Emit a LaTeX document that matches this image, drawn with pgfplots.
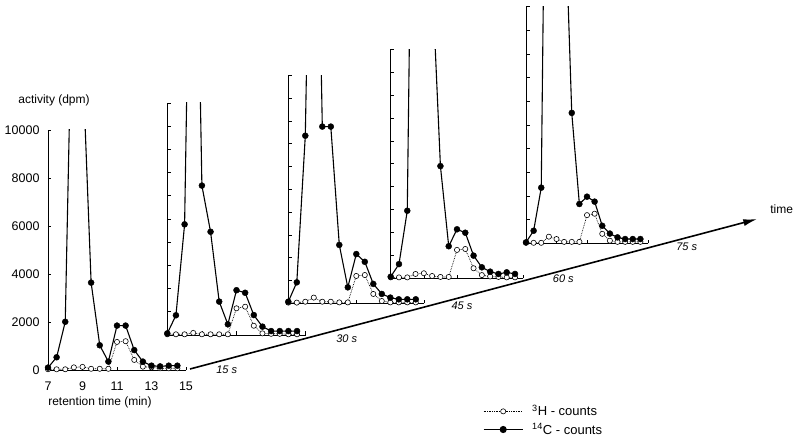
\documentclass[border=0pt]{standalone}
\usepackage{fontspec}
\setmainfont{Liberation Sans}
\usepackage{pgfplots}
\usepackage{pgfplotstable}
\pgfplotsset{compat=1.18}
\usetikzlibrary{arrows.meta}

% t = retention time (min), C = 14C counts, H = 3H counts (dpm)
\pgfplotstableread{
t C H
7 100 30
7.5 530 30
8 2010 30
8.5 19400 110
9 13000 130
9.5 3640 50
10 1030 50
10.5 350 50
11 1850 1170
11.5 1850 1200
12 830 420
12.5 350 140
13 180 110
13.5 150 70
14 180 70
14.5 180 70
}\pone
\pgfplotstableread{
t C H
7 70 30
7.5 850 30
8 4770 30
8.5 27500 90
9 6440 30
9.5 4450 30
10 1440 30
10.5 460 30
11 1930 1150
11.5 1820 1220
12 860 400
12.5 360 70
13 170 50
13.5 170 50
14 170 30
14.5 170 30
}\ptwo
\pgfplotstableread{
t C H
7 70 30
7.5 920 30
8 7350 70
8.5 28000 250
9 7750 70
9.5 7750 70
10 2560 40
10.5 700 40
11 2160 1200
11.5 1820 1240
12 850 410
12.5 410 100
13 250 40
13.5 175 40
14 175 40
14.5 175 40
}\pthree
\pgfplotstableread{
t C H
7 70 40
7.5 620 40
8 2950 40
8.5 32000 190
9 25000 220
9.5 13100 100
10 4900 60
10.5 1400 60
11 2140 1240
11.5 1990 1280
12 990 440
12.5 480 140
13 290 80
13.5 190 60
14 260 40
14.5 190 40
}\pfour
\pgfplotstableread{
t C H
7 40 20
7.5 530 20
8 2350 20
8.5 31800 280
9 25000 180
9.5 15300 60
10 5510 60
10.5 1660 60
11 1970 1190
11.5 1760 1250
12 740 400
12.5 410 110
13 250 60
13.5 180 60
14 180 60
14.5 180 60
}\pfive

\pgfplotsset{
  panel/.style={
    scale only axis, anchor=south west,
    xmin=7, xmax=15, ymin=0, ymax=10000,
    axis x line*=bottom, axis y line*=left,
    xtick={7,9,11,13,15}, ytick={0,1000,...,10000},
    tick align=inside, major tick length=3.5pt,
    tick style={black, line width=0.6pt},
    axis line style={black, line width=0.8pt},
    font=\fontsize{12}{14}\selectfont,
    tick label style={font=\fontsize{12.5}{14}\selectfont},
    xticklabel style={yshift=-8pt},
    yticklabel style={xshift=-5pt},
    /pgf/number format/assume math mode=true,
    /pgf/number format/1000 sep={},
    scaled y ticks=false,
  },
  nolabels/.style={xticklabels={}, yticklabels={}},
  hl/.style={black, densely dotted, line width=0.7pt, no marks},
  hm/.style={only marks, mark=*, mark size=2.6pt, mark options={solid, fill=white, draw=black, line width=0.6pt}},
  cl/.style={black, solid, line width=1.1pt, no marks},
  cm/.style={only marks, mark=*, mark size=3pt, mark options={fill=black, draw=black},
    restrict y to domain=-1000:10000},
}

% one chromatogram: dotted 3H below, solid 14C on top
\newcommand{\chrom}[1]{%
  \addplot[hl, forget plot] table[x=t, y=H] {#1};
  \addplot[hm, forget plot] table[x=t, y=H] {#1};
  \addplot[cl, forget plot] table[x=t, y=C] {#1};
  \addplot[cm, forget plot] table[x=t, y=C] {#1};
}

\begin{document}
\begin{tikzpicture}
\path[use as bounding box] (0pt,0pt) rectangle (800pt,442pt);

% 0 s
\begin{axis}[panel, at={(48pt,72pt)}, width=138pt, height=240pt,
  ytick={0,2000,...,10000},
  legend style={at={(3.152,-0.21)}, anchor=west, draw=none, fill=none,
    inner sep=0pt, row sep=6pt, column sep=9pt,
    font=\fontsize{13}{15}\selectfont, nodes={inner sep=0pt}},
  legend cell align=left,
  legend image code/.code={\draw[mark repeat=2, mark phase=2, #1]
    plot coordinates {(0pt,0pt) (19.5pt,0pt) (39pt,0pt)};}]
  \chrom{\pone}
  \addlegendimage{black, densely dotted, line width=0.7pt, mark=*, mark size=2.6pt,
    mark options={solid, fill=white, draw=black, line width=0.6pt}}
  \addlegendentry{\textsuperscript{3}H - counts}
  \addlegendimage{black, solid, line width=1.1pt, mark=*, mark size=3pt,
    mark options={fill=black}}
  \addlegendentry{\textsuperscript{14}C - counts}
\end{axis}

% 15 s
\begin{axis}[panel, nolabels, at={(167.3pt,107pt)}, width=138.4pt, height=232pt]
  \chrom{\ptwo}
\end{axis}

% 30 s
\begin{axis}[panel, nolabels, at={(288.3pt,138.7pt)}, width=136pt, height=228pt]
  \chrom{\pthree}
\end{axis}

% 45 s
\begin{axis}[panel, nolabels, at={(390.7pt,163.7pt)}, width=132.6pt, height=229pt]
  \chrom{\pfour}
\end{axis}

% 60 s
\begin{axis}[panel, nolabels, at={(526pt,198.7pt)}, width=122pt, height=236.7pt]
  \chrom{\pfive}
\end{axis}

% time axis
\draw[line width=1.6pt, -{Latex[length=14pt, width=7pt]}] (190pt,73pt) -- (757.3pt,223pt);
\begin{scope}[font=\fontsize{11}{13}\selectfont\itshape]
  \node at (226.7pt,72pt) {15 s};
  \node at (346.7pt,103.7pt) {30 s};
  \node at (462pt,136pt) {45 s};
  \node at (563.3pt,163.7pt) {60 s};
  \node at (686.7pt,195.3pt) {75 s};
\end{scope}
\begin{scope}[font=\fontsize{12}{14}\selectfont]
  \node at (781.7pt,232.7pt) {time};
  \node at (54pt,342pt) {activity (dpm)};
  \node at (100pt,39.3pt) {retention time (min)};
\end{scope}
\end{tikzpicture}
\end{document}
